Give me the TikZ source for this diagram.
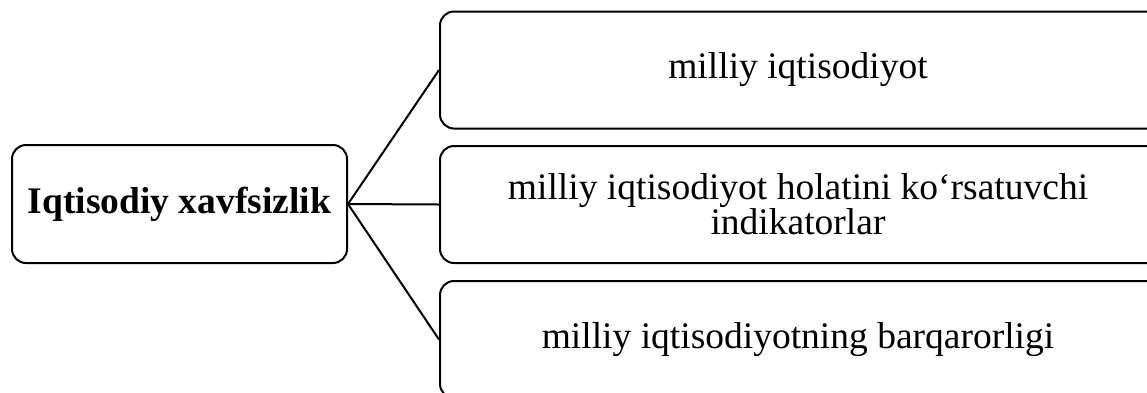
\documentclass[tikz,border=0pt]{standalone}
\usepackage{fontspec}
\setmainfont{Liberation Serif}
\begin{document}
\begin{tikzpicture}[x=1pt,y=-1pt,
  box/.style={draw=black, line width=2pt, rounded corners=14pt, align=center,
    inner sep=0pt, font=\fontsize{37.5}{34}\selectfont},
  leftbox/.style={box, minimum width=335pt, minimum height=118pt, font=\fontsize{37.5}{34}\selectfont\bfseries},
  rightbox/.style={box, minimum width=760pt, minimum height=117pt},
  conn/.style={draw=black, line width=2pt}]
\useasboundingbox (0,0) rectangle (1147,392);
\begin{scope}
\clip (0,0) rectangle (1147,392);
\node[leftbox] (L) at (179.5,204) {Iqtisodiy xavfsizlik};
\node[rightbox] (R1) at (820,70) {\hspace*{-44pt}milliy iqtisodiyot};
\node[rightbox] (R2) at (820,204.5) {\hspace*{-44pt}milliy iqtisodiyot holatini ko‘rsatuvchi\\\hspace*{-44pt}indikatorlar};
\node[rightbox] (R3) at (820,339.5) {\hspace*{-44pt}milliy iqtisodiyotning barqarorligi};
\draw[conn] (L.east) -- (R1.west);
\draw[conn] (L.east) -- (R2.west);
\draw[conn] (L.east) -- (R3.west);
\end{scope}
\end{tikzpicture}
\end{document}
